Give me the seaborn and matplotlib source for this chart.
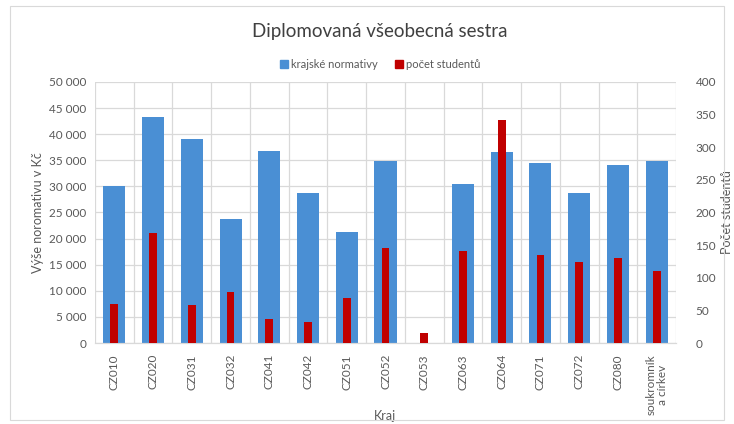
import numpy as np
import pandas as pd
import matplotlib
matplotlib.use("Agg")
import matplotlib.pyplot as plt
import seaborn as sns
from matplotlib.ticker import FuncFormatter, MultipleLocator, FixedLocator
from matplotlib.patches import Patch

# --- Daten ---
kraje = ["CZ010", "CZ020", "CZ031", "CZ032", "CZ041", "CZ042", "CZ051", "CZ052",
         "CZ053", "CZ063", "CZ064", "CZ071", "CZ072", "CZ080", "soukromník\na církev"]
normativy = [30000, 43300, 39100, 23750, 36800, 28700, 21300, 34900,
             0, 30500, 36600, 34500, 28700, 34100, 34900]
studenti = [60, 169, 58, 78, 37, 32, 69, 146, 15, 141, 342, 135, 124, 130, 110]

BLUE = "#4a8fd4"
RED = "#c00000"
GRID = "#d9d9d9"
TXT = "#595959"

df = pd.DataFrame({"Kraj": kraje, "normativ": normativy, "studenti": studenti})

sns.set_style("white")
plt.rcParams["font.family"] = ["Lato", "DejaVu Sans"]

fig = plt.figure(figsize=(7.34, 4.24), dpi=100)
ax = fig.add_axes([95 / 734, 1 - 343 / 424, 581 / 734, 261 / 424])
ax2 = ax.twinx()

sns.barplot(data=df, x="Kraj", y="normativ", color=BLUE, width=0.57,
            saturation=1, linewidth=0, ax=ax, zorder=2)
sns.barplot(data=df, x="Kraj", y="studenti", color=RED, width=0.2,
            saturation=1, linewidth=0, ax=ax2, zorder=3)

ax.set_ylim(0, 50000)
ax2.set_ylim(0, 400)
ax.set_xlim(-0.5, len(kraje) - 0.5)
ax.yaxis.set_major_locator(MultipleLocator(5000))
ax2.yaxis.set_major_locator(MultipleLocator(50))
ax.yaxis.set_major_formatter(FuncFormatter(lambda v, p: f"{int(v):,}".replace(",", " ")))

# mřížka jako v Excelu
ax.xaxis.set_minor_locator(FixedLocator(np.arange(-0.5, len(kraje), 1.0)))
ax.grid(axis="y", which="major", color=GRID, lw=0.9, zorder=0)
ax.grid(axis="x", which="minor", color=GRID, lw=0.9, zorder=0)
ax.grid(axis="x", which="major", visible=False)
ax.set_axisbelow(True)

for a in (ax, ax2):
    for s in a.spines.values():
        s.set_visible(False)
    a.spines["bottom"].set_visible(True)
    a.spines["bottom"].set_color(GRID)
    a.tick_params(length=0, colors=TXT, labelsize=8.5)

ax.tick_params(axis="x", which="both", length=0, pad=8)
ax.set_xticks(range(len(kraje)))
ax.set_xticklabels(kraje, rotation=90, fontsize=8.5, color=TXT, linespacing=1.0)
ax2.tick_params(axis="y", pad=14)
ax.tick_params(axis="y", pad=6)

ax.set_xlabel("Kraj", color=TXT, fontsize=9)
ax.xaxis.set_label_coords(0.499, -0.257)
ax.set_ylabel("Výše noromativu v Kč", color=TXT, fontsize=9, labelpad=4)
ax2.set_ylabel("Počet studentů", color=TXT, fontsize=9)
ax2.yaxis.set_label_coords(1.078, 0.5)

fig.text(0.518, 1 - 32 / 424, "Diplomovaná všeobecná sestra", ha="center", va="center",
         fontsize=13.5, color="#404040")

handles = [Patch(color=BLUE, label="krajské normativy"), Patch(color=RED, label="počet studentů")]
fig.legend(handles=handles, loc="center", bbox_to_anchor=(0.518, 1 - 64 / 424), ncol=2,
           frameon=False, fontsize=8, handlelength=0.7, handleheight=0.7,
           handletextpad=0.3, columnspacing=1.5, labelcolor=TXT)

# rámeček grafu
fig.patches.append(plt.Rectangle((10 / 734, 4 / 424), 714 / 734, 414 / 424, transform=fig.transFigure,
                                 fill=False, edgecolor="#d9d9d9", lw=0.8))

fig.savefig("out.png", dpi=100)
